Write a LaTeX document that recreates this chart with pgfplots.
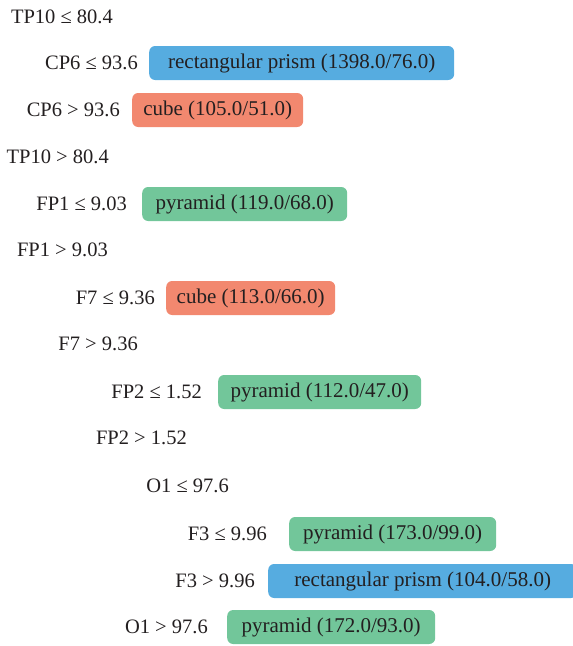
\documentclass[border=0pt]{standalone}
\usepackage{pgfplots}
\pgfplotsset{compat=1.18}
\usepackage{pgfplotstable}
\usepackage{fontspec}
\setmainfont{Liberation Serif}
\definecolor{txt}{HTML}{231F20}
\definecolor{blueC}{HTML}{56ACE0}
\definecolor{redC}{HTML}{F2886F}
\definecolor{greenC}{HTML}{72C69A}

% condition labels: right end x, centre y (pixels from top)
\pgfplotstableread[col sep=comma]{
x,y,label
113,17,TP10 ≤ 80.4
138,63,CP6 ≤ 93.6
120,110,CP6 > 93.6
109,157,TP10 > 80.4
127,204,FP1 ≤ 9.03
108,250,FP1 > 9.03
155,298,F7 ≤ 9.36
138,344,F7 > 9.36
202,392,FP2 ≤ 1.52
187,438,FP2 > 1.52
229,486,O1 ≤ 97.6
267,534,F3 ≤ 9.96
255,581,F3 > 9.96
208,627,O1 > 97.6
}\condtab

% leaves: left x, centre y, box width
\pgfplotstableread[col sep=comma]{
x,y,w,label
149,63,305,rectangular prism (1398.0/76.0)
268,581,309,rectangular prism (104.0/58.0)
}\bluetab
\pgfplotstableread[col sep=comma]{
x,y,w,label
132,110,171,cube (105.0/51.0)
166,298,169,cube (113.0/66.0)
}\redtab
\pgfplotstableread[col sep=comma]{
x,y,w,label
142,204,205,pyramid (119.0/68.0)
218,392,203,pyramid (112.0/47.0)
289,534,207,pyramid (173.0/99.0)
227,627,208,pyramid (172.0/93.0)
}\greentab

\pgfplotsset{
  leafbox/.style={only marks, mark=*, mark size=0pt, mark options={draw=none,fill=none},
    visualization depends on={\thisrow{w}\as\bw},
    nodes near coords, point meta=explicit symbolic,
    nodes near coords style={anchor=west, fill=#1, rounded corners=6pt,
      font=\fontsize{21}{25}\selectfont, text height=15.5pt, text depth=4pt,
      minimum width=\bw pt, minimum height=34pt, inner sep=0pt, text=txt}},
}

\begin{document}
\begin{tikzpicture}[font=\fontsize{20.5}{24}\selectfont]
\begin{axis}[at={(0,0)}, anchor=south west, scale only axis,
  width=573pt, height=646pt, xmin=0, xmax=573, ymin=0, ymax=646,
  y dir=reverse, hide axis, clip=false]
\addplot[only marks, mark=*, mark size=0pt, mark options={draw=none,fill=none},
  nodes near coords, point meta=explicit symbolic,
  nodes near coords style={anchor=east, inner sep=0pt, text=txt}]
  table[x=x,y=y,meta=label]{\condtab};
\addplot[leafbox=blueC] table[x=x,y=y,meta=label]{\bluetab};
\addplot[leafbox=redC] table[x=x,y=y,meta=label]{\redtab};
\addplot[leafbox=greenC] table[x=x,y=y,meta=label]{\greentab};
\end{axis}
\pgfresetboundingbox
\path (0,0) rectangle (573pt,646pt);
\end{tikzpicture}
\end{document}
